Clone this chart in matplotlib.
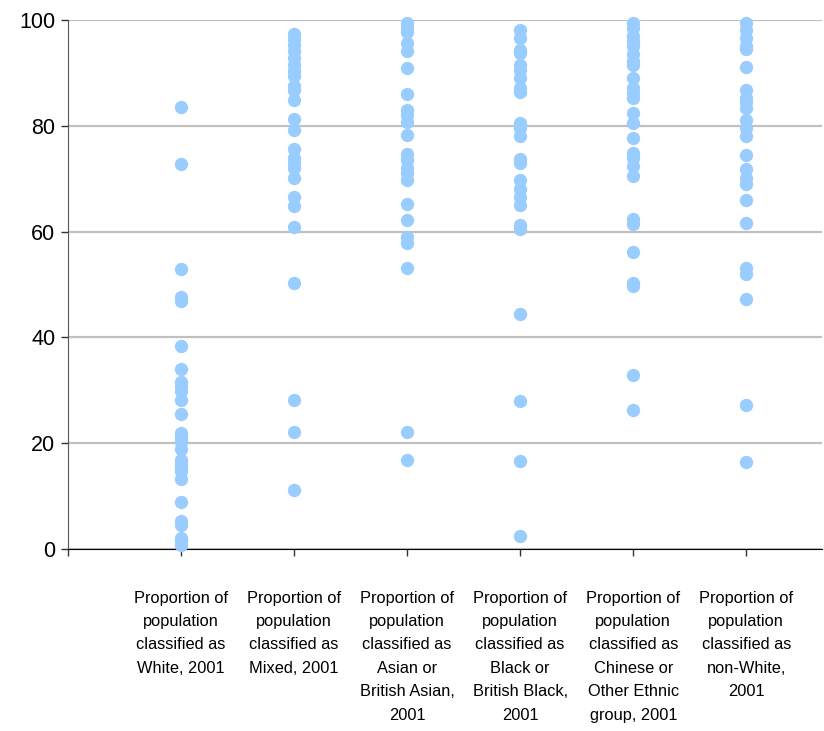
import numpy as np
import matplotlib
matplotlib.use('Agg')
import matplotlib.pyplot as plt

plt.rcParams['font.family'] = ['Liberation Sans', 'DejaVu Sans']

# values (percent)
white = [83.5, 72.8, 52.9, 47.6, 46.9, 38.3, 34.0, 31.5, 30.8, 29.9, 28.2, 25.5,
         22.0, 21.2, 20.3, 18.9, 16.9, 16.1, 15.4, 14.7, 13.3, 8.8, 5.3, 4.5,
         2.1, 1.5, 0.7]
mixed = [97.4, 96.5, 95.3, 94.2, 92.8, 91.5, 90.3, 89.4, 87.6, 86.7, 84.9, 81.2,
         79.3, 75.6, 74.0, 73.0, 72.1, 70.1, 66.5, 64.8, 60.8, 50.2, 28.1, 22.1,
         11.1]
asian = [99.4, 98.6, 97.7, 95.6, 94.2, 91.0, 86.0, 83.0, 82.0, 80.8, 78.3, 74.6,
         73.6, 72.0, 71.0, 69.8, 65.2, 62.1, 59.0, 57.9, 53.1, 22.1, 16.9]
black = [98.2, 96.6, 94.4, 93.8, 91.5, 90.5, 89.0, 87.2, 86.3, 80.6, 79.6, 78.1,
         73.8, 73.0, 69.8, 68.1, 66.5, 65.0, 61.3, 60.4, 44.5, 28.0, 16.6, 2.4]
chinese = [99.5, 98.5, 97.0, 96.0, 95.0, 93.6, 92.2, 91.5, 89.0, 87.1, 86.2, 85.2,
           82.4, 80.5, 77.7, 74.9, 74.0, 72.4, 70.5, 62.3, 61.4, 56.1, 50.3, 49.8,
           32.9, 26.2]
non_white = [99.4, 98.2, 96.6, 95.0, 94.6, 91.2, 86.8, 85.3, 84.5, 83.4, 81.1, 79.6,
             78.1, 74.4, 71.8, 70.2, 69.0, 66.0, 61.6, 53.1, 52.0, 47.2, 27.2, 16.4]

series = [white, mixed, asian, black, chinese, non_white]
labels = ['Proportion of\npopulation\nclassified as\nWhite, 2001',
          'Proportion of\npopulation\nclassified as\nMixed, 2001',
          'Proportion of\npopulation\nclassified as\nAsian or\nBritish Asian,\n2001',
          'Proportion of\npopulation\nclassified as\nBlack or\nBritish Black,\n2001',
          'Proportion of\npopulation\nclassified as\nChinese or\nOther Ethnic\ngroup, 2001',
          'Proportion of\npopulation\nclassified as\nnon-White,\n2001']

fig = plt.figure(figsize=(8.24, 7.31), dpi=100)
ax = fig.add_axes([68/824, 1 - 549/731, (822 - 68)/824, (549 - 20)/731])

for i, vals in enumerate(series):
    ax.plot(np.full(len(vals), i + 1), vals, 'o', color='#99ccff',
            markersize=9.6, markeredgewidth=0, clip_on=False, zorder=3)

ax.set_xlim(0, 6.67)
ax.set_ylim(0, 100)
ax.set_yticks([0, 20, 40, 60, 80, 100])
ax.set_xticks(range(7))
ax.set_xticklabels([''] + labels, fontsize=11.8, linespacing=1.7, va='top')
ax.tick_params(axis='y', labelsize=15.5, length=5, width=1, color='#333333', pad=4)
ax.tick_params(axis='x', length=5, width=1, color='#333333', pad=25)

ax.grid(axis='y', color='#c0c0c0', linewidth=1.6)
ax.set_axisbelow(True)
for s in ['top', 'right']:
    ax.spines[s].set_visible(False)
ax.spines['left'].set_color('#555555')
ax.spines['bottom'].set_color('black')

plt.savefig('out.png', dpi=100)
